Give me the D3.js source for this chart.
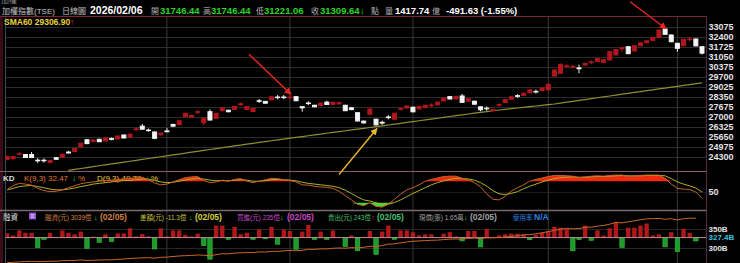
<!DOCTYPE html>
<html>
<head>
<meta charset="utf-8">
<script src="https://cdn.jsdelivr.net/npm/d3@7"></script>
<style>
  body { margin: 0; background: #000; }
  svg { display: block; font-family: "Liberation Sans", "Noto Sans CJK TC", sans-serif; }
</style>
</head>
<body>
<div id="chart"></div>
<script>
    var svgWidth = 740;
    var svgHeight = 263;

    // daily candles (TSE index), oldest first
    var openPx = [24132,24182,24482,24467,24467,24084,24084,23926,24249,24288,
      24634,24672,24990,25463,25350,25494,25381,25540,25516,25784,
      25638,26140,26378,26122,25988,25792,26060,26500,26485,27025,
      26987,27318,26615,27358,26912,27420,27455,27508,27828,27508,
      27372,28100,28052,28162,28350,28350,28310,28370,27700,27945,
      27792,27777,28005,27855,27885,27790,27620,27290,26722,27183,
      26850,26640,27000,26850,27520,27605,27660,27548,27630,27770,
      27822,28082,28376,28213,28418,28067,28065,27687,27594,27422,
      27790,27980,28202,28437,28462,28635,28728,28790,28830,29768,
      29950,30422,30375,30310,30497,30672,30757,30690,30847,31190,
      31600,31745,31455,31807,32022,32175,32380,32940,32535,31975,
      31812,32225,32265,31746.44];
    var highPx = [24400,24380,24620,24500,24640,24230,24200,24100,24300,24520,
      24720,24900,25260,25520,25480,25530,25610,25620,25750,25810,
      25870,26300,26520,26220,26040,25950,26250,26540,26780,27280,
      27150,27460,26960,27520,27290,27660,27490,27740,27990,27750,
      27600,28220,28090,28400,28480,28480,28470,28420,27720,28060,
      27830,27970,28100,28030,28000,27830,27680,27330,26760,27580,
      26880,26760,27120,27290,27660,27780,27700,27740,27820,27920,
      28040,28320,28420,28430,28560,28260,28100,27720,27720,27550,
      27920,28210,28400,28540,28640,28870,28850,28990,29250,30220,
      30600,30560,30520,30530,30650,30830,30970,30900,31450,31590,
      31700,31790,31850,32040,32180,32390,32900,32960,32570,32000,
      32280,32400,32300,31746.44];
    var lowPx = [24070,24130,24420,24230,24240,23900,23920,23880,24100,24250,
      24520,24640,24960,25170,25320,25300,25350,25430,25490,25560,
      25610,26060,26150,26000,25500,25760,25960,26340,26450,26990,
      26950,27200,26460,26760,26880,27390,27320,27480,27740,27470,
      27340,27960,27900,28130,28180,28200,28200,28060,27360,27800,
      27660,27740,27810,27820,27850,27400,27460,26700,26560,27150,
      26430,26470,26840,26820,27420,27570,27320,27510,27600,27680,
      27790,28050,28190,28180,27960,28040,27840,27380,27420,27400,
      27700,27950,28170,28300,28430,28600,28580,28760,28800,29740,
      29920,30340,30300,29950,30470,30580,30720,30660,30820,31160,
      31420,31240,31420,31780,32000,32140,32350,32550,32050,31408,
      31780,32120,31770,31221.06];
    var closePx = [24332,24322,24522,24267,24267,24044,24044,24066,24149,24488,
      24574,24872,25230,25203,25450,25334,25581,25490,25716,25584,
      25838,26200,26178,26082,25562,25912,26010,26380,26745,27245,
      27107,27358,26912,26797,27250,27620,27355,27708,27888,27708,
      27572,28060,27932,28362,28310,28310,28350,28100,27620,27905,
      27692,27937,27845,27995,27965,27425,27500,26730,26602,27540,
      26470,26590,26960,27250,27560,27745,27350,27708,27790,27810,
      28002,28282,28216,28393,27990,28227,27865,27487,27554,27522,
      27830,28180,28362,28397,28602,28835,28688,28950,29210,30172,
      30557,30462,30415,30260,30617,30712,30937,30870,31408,31550,
      31680,31273,31812,32007,32142,32355,32867,32582,32082,31637,
      32245,32265,31801.27,31309.64];

    var sma60 = [null,null,null,null,null,null,null,null,null,null,
      23400,23460,23522,23585,23646,23708,23770,23830,23892,23953,
      24015,24076,24138,24198,24257,24318,24378,24440,24500,24562,
      24623,24685,24745,24806,24866,24927,24986,25046,25106,25166,
      25225,25283,25341,25398,25455,25512,25568,25624,25680,25736,
      25792,25848,25904,25960,26016,26072,26128,26183,26238,26293,
      26348,26404,26460,26517,26574,26631,26688,26745,26802,26860,
      26917,26975,27032,27090,27147,27204,27260,27315,27368,27420,
      27472,27518,27563,27608,27652,27697,27742,27788,27833,27878,
      27938,27998,28058,28118,28178,28238,28298,28358,28418,28478,
      28538,28598,28657,28716,28775,28834,28893,28952,29011,29070,
      29129,29188,29247,29306.90];

    var kValues = [56,68,74,72,69,60,54,51,52,56,
      62,67,73,76,78,80,82,83,85,86,
      88,90,91,84,75,70,72,78,84,90,
      92,93,82,76,78,83,80,85,87,80,
      76,80,84,88,87,84,82,78,70,69,
      66,64,63,60,52,40,28,16,12,20,
      10,8,16,30,44,56,62,70,80,85,
      89,93,94,94,88,84,76,64,45,30,
      28,38,53,62,70,80,85,89,93,96,
      96,95,94,90,92,94,95,94,96,97,
      97,93,94,96,97,97,97,88,72,60,
      58,57,50,32.47];
    var dValues = [56,60,65,67,68,65,62,58,56,56,
      58,61,65,68,72,74,76,78,80,82,
      82,84,86,86,82,78,76,77,80,83,
      86,88,86,83,81,82,81,83,84,83,
      80,80,81,84,85,84,83,81,77,74,
      72,70,68,66,62,55,46,36,28,25,
      20,16,16,21,28,37,46,54,62,70,
      76,81,85,88,88,86,83,76,66,54,
      45,43,46,51,59,66,72,78,83,87,
      90,91,92,91,91,92,93,93,94,95,
      96,95,95,95,96,96,96,95,87,78,
      72,67,61,49.79];

    // margin financing: daily change (億) and balance (B), up to 02/05
    var marginChange = [14,7,24,16,16,-33,-6,16,2,24,
      16,11,20,-36,3,-16,11,-13,14,14,
      31,4,12,4,-38,31,4,24,24,9,
      4,13,-27,-72,40,40,-6,36,11,16,
      -6,27,-4,36,-22,27,22,-39,20,42,
      -6,20,-6,24,2,-30,7,-44,2,22,
      -56,20,40,-6,24,24,18,7,11,11,
      2,13,18,4,-11,22,22,-31,29,2,
      7,11,13,13,11,-7,9,16,22,36,
      33,29,-44,-7,40,-9,24,7,31,51,
      -33,33,33,40,47,7,11,-31,18,-47,
      29,16,-11.3];
    var marginBalance = [261.5,262.3,263.6,264.3,264.9,264.0,264.3,265.2,265.4,266.4,
      267.0,267.4,268.4,267.2,267.8,268.2,269.0,268.8,270.0,271.0,
      272.6,273.2,274.2,274.6,273.4,275.4,276.0,277.6,279.0,279.8,
      280.4,281.6,281.0,279.8,282.4,284.8,284.6,286.6,287.2,288.0,
      287.9,289.6,289.5,291.4,290.8,292.4,293.6,292.6,294.0,296.4,
      296.3,297.6,297.5,299.3,300.0,299.4,301.0,300.2,301.8,304.6,
      304.0,306.4,310.2,311.0,313.6,316.0,317.8,318.6,319.4,320.3,
      320.8,322.0,323.4,323.8,323.5,325.0,326.2,325.2,326.8,327.0,
      327.6,328.6,330.4,332.6,334.6,335.0,337.2,340.0,343.2,346.6,
      349.4,351.8,350.4,351.0,354.6,354.8,357.6,359.4,362.6,367.4,
      366.0,369.0,371.6,374.2,376.8,377.2,378.0,375.6,377.2,374.0,
      377.0,378.6,378.2];

    var priceTicks = [24300,24975,25650,26325,27000,27675,28350,29025,29700,30375,31050,31725,32400,33075];
    var marginTicks = [300, 350];
    var marginLast = 327.4;
    var monthStarts = [26, 46, 66, 88, 109];

    var plotLeft = 5.5, plotRight = 706.5;

    var svg = d3.select("#chart")
      .append("svg")
      .attr("width", svgWidth)
      .attr("height", svgHeight)
      .style("background", "#000");

    var xScale = d3.scaleLinear().domain([0, 113]).range([7, 702]);
    var yPrice = d3.scaleLinear().domain([24300, 33075]).range([157, 27]);
    var yKD = d3.scaleLinear().domain([0, 100]).range([210, 174]);
    var yMargin = d3.scaleLinear().domain([300, 350]).range([248, 229]);
    var yChange = d3.scaleLinear().domain([0, 50]).range([yMargin(marginLast), yMargin(marginLast) - 15]);

    // clip paths for the three panels
    var defs = svg.append("defs");
    [["clipMain", 17, 171], ["clipKD", 172, 210], ["clipVol", 211, 263]].forEach(function(c) {
      defs.append("clipPath").attr("id", c[0]).append("rect")
        .attr("x", plotLeft).attr("y", c[1]).attr("width", plotRight - plotLeft).attr("height", c[2] - c[1]);
    });
    [["arrRed", "#e8281e"], ["arrYellow", "#e8b828"]].forEach(function(m) {
      defs.append("marker").attr("id", m[0])
        .attr("viewBox", "0 0 10 10").attr("refX", 9).attr("refY", 5)
        .attr("markerWidth", 5).attr("markerHeight", 5).attr("orient", "auto")
        .append("path").attr("d", "M0,0L10,5L0,10z").attr("fill", m[1]);
    });

    // left edge strip
    svg.append("rect").attr("x", 0).attr("y", 17).attr("width", 3).attr("height", 246).attr("fill", "#3a0c18");

    // main price axis + grid
    var priceAxis = svg.append("g")
      .attr("transform", `translate(${plotRight}, 0)`)
      .call(d3.axisRight(yPrice).tickValues(priceTicks).tickSize(-(plotRight - plotLeft)).tickPadding(2).tickFormat(d3.format("d")));
    priceAxis.select(".domain").remove();
    priceAxis.selectAll("line").attr("stroke", "#2c2c2c");
    priceAxis.selectAll("text").attr("fill", "#e4e4e4").style("font-size", "9px").style("font-weight", "bold");

    // KD axis
    var kdAxis = svg.append("g")
      .attr("transform", `translate(${plotRight}, 0)`)
      .call(d3.axisRight(yKD).tickValues([50]).tickSize(-(plotRight - plotLeft)).tickPadding(2));
    kdAxis.select(".domain").remove();
    kdAxis.selectAll("line").attr("stroke", "#1c1c1c");
    kdAxis.selectAll("text").attr("fill", "#e4e4e4").style("font-size", "9px").style("font-weight", "bold");

    // margin axis
    var volAxis = svg.append("g")
      .attr("transform", `translate(${plotRight}, 0)`)
      .call(d3.axisRight(yMargin).tickValues(marginTicks).tickSize(-(plotRight - plotLeft)).tickPadding(2).tickFormat(d => d + "B"));
    volAxis.select(".domain").remove();
    volAxis.selectAll("line").attr("stroke", "#262626");
    volAxis.selectAll("text").attr("fill", "#e4e4e4").style("font-size", "8px").style("font-weight", "bold");

    svg.append("text")
      .attr("x", plotRight + 2).attr("y", yMargin(marginLast)).attr("dy", "0.35em")
      .attr("fill", "#3cc4dc").style("font-size", "8px").style("font-weight", "bold")
      .text(marginLast + "B");

    // month grid lines
    svg.append("g").selectAll("line")
      .data(monthStarts)
      .enter()
      .append("line")
      .attr("x1", d => xScale(d)).attr("x2", d => xScale(d))
      .attr("y1", 17).attr("y2", 263)
      .attr("stroke", "#383838");

    // panel frames
    svg.append("line").attr("x1", 0).attr("x2", plotRight).attr("y1", 16.5).attr("y2", 16.5).attr("stroke", "#7a2438");
    svg.append("line").attr("x1", plotRight).attr("x2", plotRight).attr("y1", 16.5).attr("y2", 263).attr("stroke", "#5a2a40");
    svg.append("line").attr("x1", plotLeft).attr("x2", plotLeft).attr("y1", 17).attr("y2", 263).attr("stroke", "#2e5058");
    svg.append("line").attr("x1", 0).attr("x2", plotRight).attr("y1", 171.5).attr("y2", 171.5).attr("stroke", "#8a5a6a");
    svg.append("line").attr("x1", 0).attr("x2", plotRight).attr("y1", 210.5).attr("y2", 210.5).attr("stroke", "#7a6a72").attr("stroke-width", 1.5);

    // ---- header ----
    function label(x, y, txt, color, size, bold) {
      return svg.append("text").attr("x", x).attr("y", y).attr("fill", color)
        .style("font-size", size + "px").style("font-weight", bold ? "bold" : "normal").text(txt);
    }
    label(1, 3, "加權", "#8a8a8a", 8, false);
    label(2, 13.5, "加權指數(TSE)", "#c4c4c4", 8, false);
    label(62, 13.5, "日線圖", "#c4c4c4", 8, false);
    label(90, 13.5, "2026/02/06", "#ffffff", 10.5, true);
    label(151, 13.5, "開", "#b0b0b0", 8, false);
    label(160, 13.5, "31746.44", "#28d428", 9.5, true);
    label(203, 13.5, "高", "#b0b0b0", 8, false);
    label(211, 13.5, "31746.44", "#28d428", 9.5, true);
    label(256, 13.5, "低", "#b0b0b0", 8, false);
    label(264, 13.5, "31221.06", "#28d428", 9.5, true);
    label(311, 13.5, "收", "#b0b0b0", 8, false);
    label(320, 13.5, "31309.64", "#28d428", 9.5, true);
    label(360, 13.5, "↓", "#28d428", 9, true);
    label(371, 13.5, "點", "#b0b0b0", 8, false);
    label(385, 13.5, "量", "#b0b0b0", 8, false);
    label(395, 13.5, "1417.74", "#ffffff", 9.5, true);
    label(432, 13.5, "億", "#b0b0b0", 8, false);
    label(446, 13.5, "-491.63 (-1.55%)", "#ffffff", 9.5, true);

    label(4, 24.5, "SMA60 29306.90", "#e8d43c", 8.5, true);
    label(70, 24.5, "↑", "#e82020", 8.5, true);

    // KD header
    label(3, 181, "KD", "#dddddd", 8, true);
    label(24, 181, "K(9,3) 32.47", "#e0782c", 8, false);
    label(72, 181, "↓", "#28d428", 8, true);
    label(78, 181, "%", "#e0782c", 8, false);
    label(97, 181, "D(9,3) 49.79", "#e8d030", 8, false);
    label(145, 181, "↓", "#28d428", 8, true);
    label(151, 181, "%", "#e8d030", 8, false);

    // margin header
    label(3, 219.5, "融資", "#d8d8d8", 7.5, false);
    svg.append("rect").attr("x", 29).attr("y", 212.5).attr("width", 7).attr("height", 7).attr("fill", "#8a4ad0");
    svg.append("path").attr("d", "M30.5,214.5h4M30.5,216h4M30.5,217.5h4").attr("stroke", "#fff").attr("stroke-width", 0.6);
    label(45, 219.5, "融資(元) 3039億", "#d08040", 6.5, false);
    label(94, 219.5, "↓", "#28d428", 7.5, true);
    label(100, 219.5, "(02/05)", "#d08040", 8.5, true);
    label(140, 219.5, "差額(元) -11.3億", "#c8c040", 6.5, false);
    label(189, 219.5, "↓", "#28d428", 7.5, true);
    label(195, 219.5, "(02/05)", "#d8d040", 8.5, true);
    label(237, 219.5, "買進(元) 235億", "#c848c8", 6.5, false);
    label(280, 219.5, "↓", "#28d428", 7.5, true);
    label(287, 219.5, "(02/05)", "#c848c8", 8.5, true);
    label(328, 219.5, "賣出(元) 243億", "#48c070", 6.5, false);
    label(371, 219.5, "↑", "#e82020", 7.5, true);
    label(377, 219.5, "(02/05)", "#48c070", 8.5, true);
    label(419, 219.5, "現償(張) 1.65萬", "#a0a0a0", 6.5, false);
    label(464, 219.5, "↓", "#28d428", 7.5, true);
    label(470, 219.5, "(02/05)", "#a0a0a0", 8.5, true);
    label(513, 219.5, "使用率", "#2a80e0", 6.5, false);
    label(534, 219.5, "N/A", "#2a80e0", 8.5, true);

    // ---- main panel ----
    var mainG = svg.append("g").attr("clip-path", "url(#clipMain)");

    mainG.append("path")
      .datum(sma60)
      .attr("fill", "none")
      .attr("stroke", "#8e9030")
      .attr("stroke-width", 1.2)
      .attr("d", d3.line().defined(d => d != null).x((d, i) => xScale(i)).y(d => yPrice(d)));

    var candles = mainG.selectAll(".candle")
      .data(closePx)
      .enter()
      .append("g")
      .attr("class", "candle");

    candles.append("line")
      .attr("x1", (d, i) => xScale(i)).attr("x2", (d, i) => xScale(i))
      .attr("y1", (d, i) => yPrice(highPx[i]))
      .attr("y2", (d, i) => yPrice(lowPx[i]))
      .attr("stroke", (d, i) => d >= openPx[i] ? "#c81c1c" : "#f0f0f0");

    candles.append("rect")
      .attr("x", (d, i) => xScale(i) - 2)
      .attr("width", 4)
      .attr("y", (d, i) => yPrice(Math.max(d, openPx[i])))
      .attr("height", (d, i) => Math.max(0.6, Math.abs(yPrice(d) - yPrice(openPx[i]))))
      .attr("fill", (d, i) => d >= openPx[i] ? "#b3161c" : "#f4f4f4")
      .attr("stroke", (d, i) => d >= openPx[i] ? "#b3161c" : "#f4f4f4")
      .attr("stroke-width", 1);

    // ---- KD panel ----
    var kdG = svg.append("g").attr("clip-path", "url(#clipKD)");

    kdG.append("path")
      .datum(kValues)
      .attr("fill", "#f02a10")
      .attr("d", d3.area().x((d, i) => xScale(i)).y0(yKD(80)).y1(d => yKD(Math.max(d, 80))));
    kdG.append("path")
      .datum(kValues)
      .attr("fill", "#3ada3a")
      .attr("d", d3.area().x((d, i) => xScale(i)).y0(yKD(20)).y1(d => yKD(Math.min(d, 20))));

    kdG.append("path")
      .datum(dValues)
      .attr("fill", "none").attr("stroke", "#b0b02c").attr("stroke-width", 1)
      .attr("d", d3.line().x((d, i) => xScale(i)).y(d => yKD(d)));
    kdG.append("path")
      .datum(kValues)
      .attr("fill", "none").attr("stroke", "#c4622a").attr("stroke-width", 1)
      .attr("d", d3.line().x((d, i) => xScale(i)).y(d => yKD(d)));

    // ---- margin panel ----
    var volG = svg.append("g").attr("clip-path", "url(#clipVol)");

    volG.selectAll(".bar")
      .data(marginChange)
      .enter()
      .append("rect")
      .attr("class", "bar")
      .attr("x", (d, i) => xScale(i) - 2.2)
      .attr("width", 4.4)
      .attr("y", d => d >= 0 ? yChange(d) : yChange(0))
      .attr("height", d => Math.abs(yChange(d) - yChange(0)))
      .attr("fill", d => d >= 0 ? "#b0181c" : "#1e9a2a")
      .attr("stroke", d => d >= 0 ? "none" : "#34c444")
      .attr("stroke-width", 0.6);

    volG.append("line")
      .attr("x1", plotLeft).attr("x2", plotRight)
      .attr("y1", yChange(0)).attr("y2", yChange(0))
      .attr("stroke", "#b89096").attr("stroke-width", 1);

    volG.append("path")
      .datum(marginBalance)
      .attr("fill", "none").attr("stroke", "#c8682a").attr("stroke-width", 1)
      .attr("d", d3.line().x((d, i) => xScale(i)).y(d => yMargin(d)));

    // ---- annotation arrows ----
    function arrow(i, price, dx, dy, offY, marker, color) {
      var tx = xScale(i) + 1, ty = yPrice(price) + offY;
      svg.append("line")
        .attr("x1", tx + dx).attr("y1", ty + dy).attr("x2", tx).attr("y2", ty)
        .attr("stroke", color).attr("stroke-width", 1.4)
        .attr("marker-end", `url(#${marker})`);
    }
    arrow(46, highPx[46], -42, -40, -1, "arrRed", "#e8281e");
    arrow(107, highPx[107], -36, -27, 0, "arrRed", "#e8281e");
    arrow(60, lowPx[60], -38, 46, 3, "arrYellow", "#e8b828");
</script>
</body>
</html>
